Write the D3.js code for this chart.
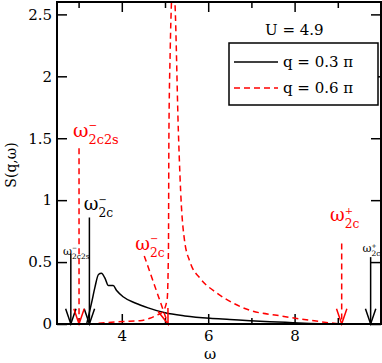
<!DOCTYPE html>
<html>
<head>
<meta charset="utf-8">
<script src="https://cdn.jsdelivr.net/npm/d3@7"></script>
<style>
  body { margin: 0; background: #fff; }
  svg text { font-family: "DejaVu Serif", serif; }
</style>
</head>
<body>
<svg id="chart" width="382" height="363"></svg>
<script>
// dados
const omegaBlack = [3.19, 3.30, 3.38, 3.46, 3.53, 3.61, 3.69, 3.80, 3.88, 4.03, 4.31, 4.61, 5.0, 5.46, 6.04, 6.5, 6.97, 7.43, 7.96, 8.36, 8.8];
const sBlack     = [0.005, 0.17, 0.30, 0.40, 0.41, 0.37, 0.31, 0.31, 0.27, 0.22, 0.17, 0.13, 0.09, 0.065, 0.046, 0.037, 0.027, 0.019, 0.011, 0.005, 0.0];

const omegaRed = [3.0, 3.22, 3.6, 4.03, 4.42, 4.65, 4.8, 4.95, 5.05, 5.08, 5.09, 5.12, 5.15, 5.19, 5.23, 5.31, 5.38, 5.45, 5.58, 5.81, 6.2, 6.57, 6.97, 7.59, 8.36, 8.8, 9.05];
const sRed     = [0.0, 0.0, 0.01, 0.02, 0.027, 0.046, 0.07, 0.1, 0.2, 0.6, 1.5, 2.2, 2.6, 2.8, 2.6, 1.55, 0.95, 0.68, 0.5, 0.37, 0.25, 0.17, 0.11, 0.07, 0.03, 0.01, 0.0];

const xMajor = [4, 6, 8];
const xMinor = [3, 5, 7, 9];
const yMajor = [0, 0.5, 1, 1.5, 2, 2.5];

// setas: posição ω, topo em S
const blackArrowX   = [2.82, 3.25, 9.76];
const blackArrowTop = [0.57, 0.86, 0.54];
const redArrowX     = [3.01, 9.09];
const redArrowTop   = [1.42, 0.65];
const redSlant      = [[4.52, 0.55], [5.07, 0]];

// rótulos das setas: [ω, S, sobrescrito, subscrito, tamanho, cor]
const arrowLabels = [
  [2.87, 1.51, "\u2212", "2c2s", 19, "#ff0000"],
  [3.12, 0.92, "\u2212", "2c", 18, "#000"],
  [4.31, 0.60, "\u2212", "2c", 18, "#ff0000"],
  [8.82, 0.83, "+", "2c", 18, "#ff0000"],
  [2.64, 0.56, "\u2212", "2c2s", 11, "#000"],
  [9.57, 0.58, "+", "2c", 11, "#000"]
];

const svg = d3.select("#chart");
const margin = { top: 2, right: 1, bottom: 39, left: 57 };
const W = +svg.attr("width"), H = +svg.attr("height");
const x = d3.scaleLinear().domain([2.5, 10]).range([margin.left, W - margin.right]);
const y = d3.scaleLinear().domain([0, 2.6]).range([H - margin.bottom, margin.top]);

svg.append("defs").append("clipPath").attr("id", "clip")
  .append("rect")
  .attr("x", x(2.5)).attr("y", y(2.6))
  .attr("width", x(10) - x(2.5)).attr("height", y(0) - y(2.6));

// eixos com ticks para dentro
function styleAxis(g) {
  g.attr("font-family", null);
  g.select(".domain").remove();
  g.selectAll(".tick line").attr("stroke", "#000").attr("stroke-width", 1.5);
  g.selectAll(".tick text").attr("font-size", 15).attr("fill", "#000");
}

svg.append("g").attr("transform", `translate(0,${y(0)})`)
  .call(d3.axisBottom(x).tickValues(xMajor).tickSize(-10).tickPadding(6.5))
  .call(styleAxis);
svg.append("g").attr("transform", `translate(0,${y(0)})`)
  .call(d3.axisBottom(x).tickValues(xMinor).tickSize(-6).tickFormat(""))
  .call(styleAxis);
svg.append("g").attr("transform", `translate(0,${y(2.6)})`)
  .call(d3.axisTop(x).tickValues(xMajor).tickSize(-10).tickFormat(""))
  .call(styleAxis);
svg.append("g").attr("transform", `translate(0,${y(2.6)})`)
  .call(d3.axisTop(x).tickValues(xMinor).tickSize(-6).tickFormat(""))
  .call(styleAxis);
svg.append("g").attr("transform", `translate(${x(2.5)},0)`)
  .call(d3.axisLeft(y).tickValues(yMajor).tickSize(-10).tickPadding(5).tickFormat(d3.format("~g")))
  .call(styleAxis);
svg.append("g").attr("transform", `translate(${x(10)},0)`)
  .call(d3.axisRight(y).tickValues(yMajor).tickSize(-10).tickFormat(""))
  .call(styleAxis);

// curvas
const line = d3.line().x(d => x(d[0])).y(d => y(d[1])).curve(d3.curveMonotoneX);
const plot = svg.append("g").attr("clip-path", "url(#clip)");

plot.append("path")
  .datum(omegaBlack.map((w, i) => [w, sBlack[i]]))
  .attr("fill", "none").attr("stroke", "#000").attr("stroke-width", 1.5)
  .attr("d", line);

plot.append("path")
  .datum(omegaRed.map((w, i) => [w, sRed[i]]))
  .attr("fill", "none").attr("stroke", "#ff0000").attr("stroke-width", 1.5)
  .attr("stroke-dasharray", "6,4")
  .attr("d", line);

// setas com ponta aberta em V
function arrow(p0, p1, color, dashed) {
  const x0 = x(p0[0]), y0 = y(p0[1]), x1 = x(p1[0]), y1 = y(p1[1]);
  const a = Math.atan2(y1 - y0, x1 - x0);
  const len = 16, half = 0.33;
  const g = svg.append("g").attr("stroke", color).attr("stroke-width", 1.5).attr("fill", "none");
  g.append("line").attr("x1", x0).attr("y1", y0).attr("x2", x1).attr("y2", y1)
    .attr("stroke-dasharray", dashed ? "6,4" : "none");
  g.append("path").attr("stroke-dasharray", "none")
    .attr("d", `M${x1 - len * Math.cos(a - half)},${y1 - len * Math.sin(a - half)}L${x1},${y1}L${x1 - len * Math.cos(a + half)},${y1 - len * Math.sin(a + half)}`);
}

blackArrowX.forEach((w, i) => arrow([w, blackArrowTop[i]], [w, 0], "#000", false));
redArrowX.forEach((w, i) => arrow([w, redArrowTop[i]], [w, 0], "#ff0000", true));
arrow(redSlant[0], redSlant[1], "#ff0000", true);

// rótulos ω com sobrescrito e subscrito
arrowLabels.forEach(([w, s, sup, sub, size, color]) => {
  const px = x(w), py = y(s);
  const g = svg.append("g").attr("fill", color);
  const om = g.append("text").attr("x", px).attr("y", py).attr("font-size", size).text("\u03c9");
  const wOm = om.node().getComputedTextLength();
  g.append("text").attr("x", px + wOm).attr("y", py - size * 0.42)
    .attr("font-size", size * 0.55).text(sup);
  g.append("text").attr("x", px + wOm).attr("y", py + size * 0.38)
    .attr("font-size", size * 0.68).text(sub);
});

// moldura
svg.append("rect")
  .attr("x", x(2.5)).attr("y", y(2.6))
  .attr("width", x(10) - x(2.5)).attr("height", y(0) - y(2.6))
  .attr("fill", "none").attr("stroke", "#000").attr("stroke-width", 2);

// legenda
svg.append("text").attr("x", 265).attr("y", 35).attr("font-size", 15).text("U = 4.9");
svg.append("rect").attr("x", 229).attr("y", 43).attr("width", 149).attr("height", 62)
  .attr("fill", "#fff").attr("stroke", "#000").attr("stroke-width", 1.5);
const legendItems = [["q = 0.3 \u03c0", "#000", "none"], ["q = 0.6 \u03c0", "#ff0000", "6,4"]];
legendItems.forEach(([label, color, dash], i) => {
  const ly = 62 + i * 26;
  svg.append("line").attr("x1", 234).attr("x2", 278).attr("y1", ly).attr("y2", ly)
    .attr("stroke", color).attr("stroke-width", 1.5).attr("stroke-dasharray", dash);
  svg.append("text").attr("x", 283).attr("y", ly + 5).attr("font-size", 15).text(label);
});

// títulos dos eixos
svg.append("text").attr("x", 210).attr("y", 359).attr("text-anchor", "middle")
  .attr("font-size", 15).text("\u03c9");
svg.append("text").attr("transform", "translate(16,165) rotate(-90)")
  .attr("text-anchor", "middle").attr("font-size", 14).text("S(q,\u03c9)");
</script>
</body>
</html>
